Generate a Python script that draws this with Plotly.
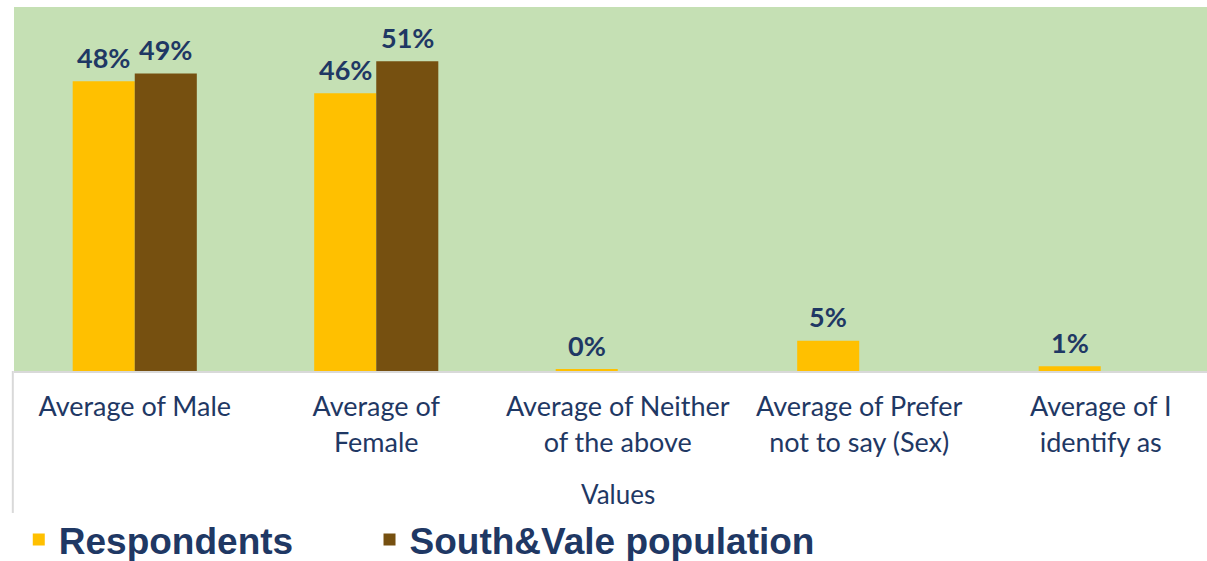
import plotly.graph_objects as go

categories = ["Average of Male", "Average of<br>Female", "Average of Neither<br>of the above",
              "Average of Prefer<br>not to say (Sex)", "Average of I<br>identify as"]
respondents = [0.48, 0.46, 0.002, 0.05, 0.008]
population = [0.493, 0.513, None, None, None]
series_names = ["Respondents", "South&Vale population"]
axis_title = "Values"

YELLOW = "#FFC000"
BROWN = "#765010"
GREEN = "#C5E0B4"
NAVY = "#1F3864"
GRID = "#D9D9D9"

W = 0.257
xs = list(range(len(categories)))

fig = go.Figure()
fig.add_bar(x=xs, y=respondents, name=series_names[0], marker_color=YELLOW,
            width=W, offset=-W, marker_line_width=0, legend="legend")
fig.add_bar(x=xs, y=population, name=series_names[1], marker_color=BROWN,
            width=W, offset=0, marker_line_width=0, legend="legend2")

label_font = dict(family="Lato", size=27, color=NAVY, weight="bold")
annotations = []
for i, v in enumerate(respondents):
    if v is not None:
        annotations.append(dict(x=i - W / 2, y=v, xref="x", yref="y", text=f"{round(v*100)}%",
                                showarrow=False, yanchor="middle", yshift=24, font=label_font))
for i, v in enumerate(population):
    if v is not None:
        annotations.append(dict(x=i + W / 2, y=v, xref="x", yref="y", text=f"{round(v*100)}%",
                                showarrow=False, yanchor="middle", yshift=24, font=label_font))
annotations.append(dict(x=2, y=-0.338, xref="x", yref="paper", text=axis_title, showarrow=False,
                        yanchor="middle", font=dict(family="Lato", size=26, color=NAVY)))
fig.update_layout(annotations=annotations)

fig.add_shape(type="line", xref="paper", yref="paper", x0=-0.001, x1=-0.001, y0=0, y1=-0.39,
              line=dict(color=GRID, width=2))

legend_font = dict(family="Liberation Sans", size=37, color=NAVY, weight="bold")
fig.update_layout(
    width=1207, height=561,
    margin=dict(l=14, r=0, t=7, b=190, autoexpand=False),
    paper_bgcolor="white",
    plot_bgcolor=GREEN,
    showlegend=True,
    legend=dict(orientation="h", x=0.004, xanchor="left", y=-0.464, yanchor="middle",
                font=legend_font, bgcolor="rgba(0,0,0,0)"),
    legend2=dict(orientation="h", x=0.298, xanchor="left", y=-0.464, yanchor="middle",
                 font=legend_font, bgcolor="rgba(0,0,0,0)"),
    xaxis=dict(tickmode="array", tickvals=xs, ticktext=categories, range=[-0.5, 4.44],
               showgrid=False, zeroline=False, showline=True, linecolor=GRID, linewidth=2,
               ticks="", ticklabelstandoff=11,
               tickfont=dict(family="Lato", size=27, color=NAVY), fixedrange=True),
    yaxis=dict(range=[0, 0.603], visible=False, showgrid=False, zeroline=False),
)

fig.write_html("out.html", config={"displayModeBar": False},
               post_script="document.body.style.margin='0';document.body.style.overflow='hidden';")
